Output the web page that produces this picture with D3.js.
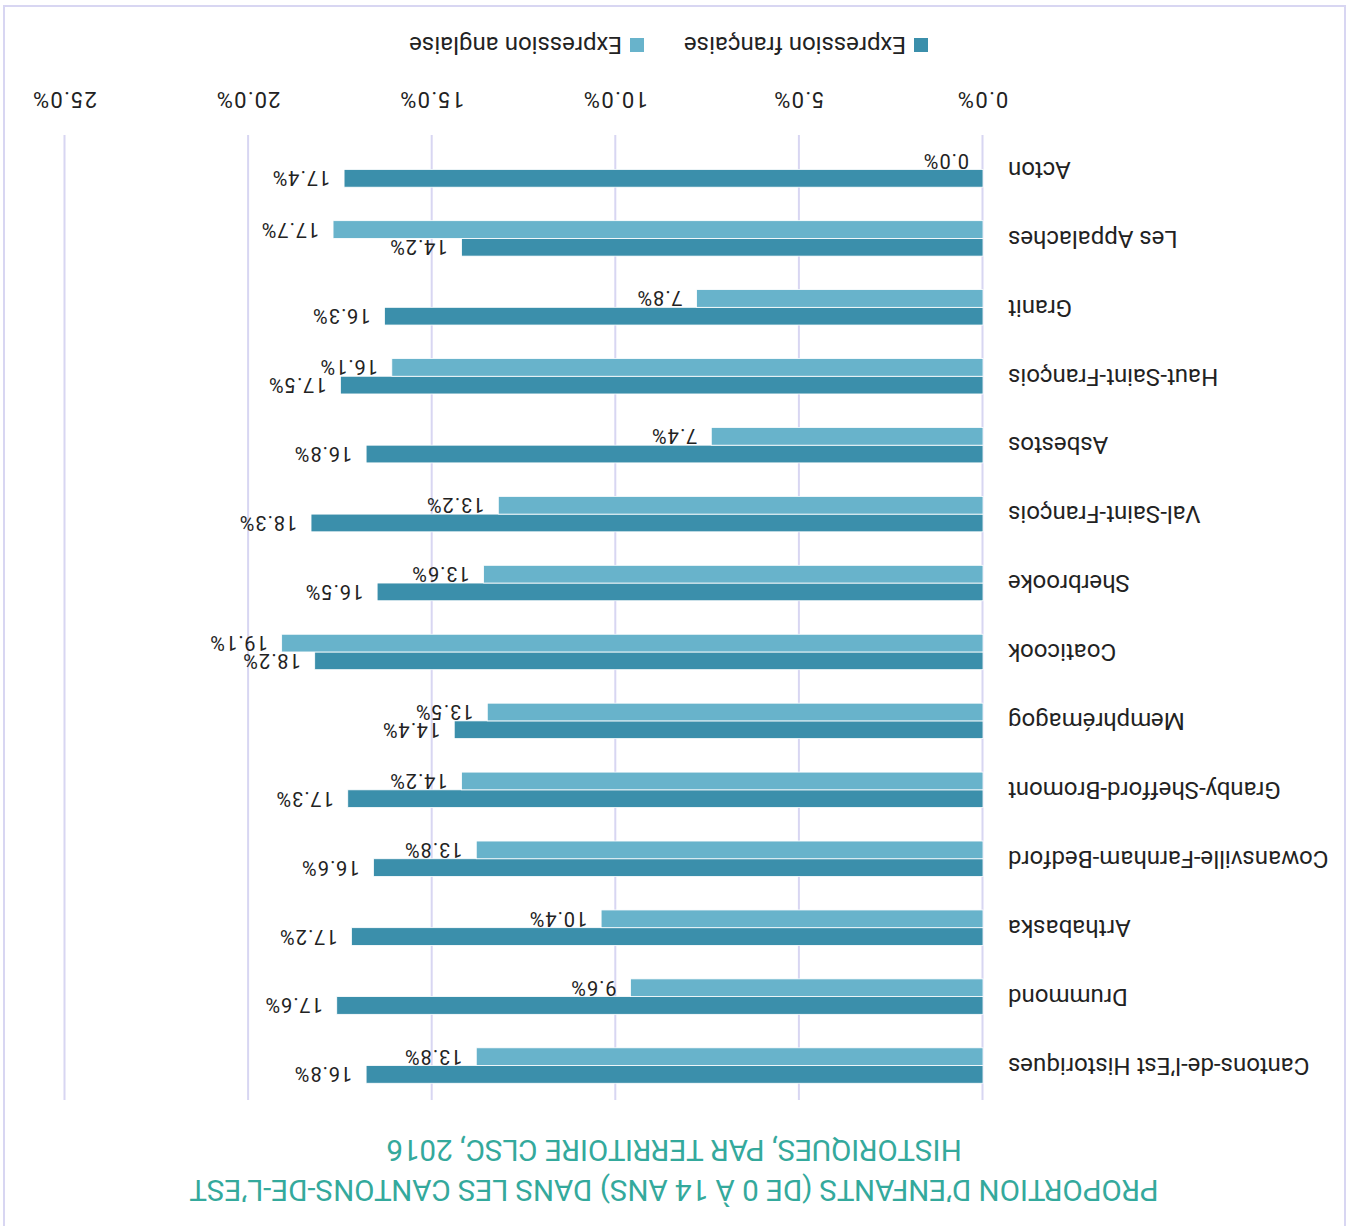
<!DOCTYPE html>
<html>
<head>
<meta charset="utf-8">
<script src="https://cdn.jsdelivr.net/npm/d3@7"></script>
<style>
  body { margin: 0; background: #fff; }
  text { font-family: Roboto, "Noto Sans", sans-serif; }
</style>
</head>
<body>
<div id="chart-div"></div>
<script>
// data, read top to bottom once the chart is turned the right way up
const categories = ["Cantons-de-l’Est Historiques", "Drummond", "Arthabaska", "Cowansville-Farnham-Bedford",
  "Granby-Shefford-Bromont", "Memphrémagog", "Coaticook", "Sherbrooke", "Val-Saint-François",
  "Asbestos", "Haut-Saint-François", "Granit", "Les Appalaches", "Acton"];
const francaise = [16.8, 17.6, 17.2, 16.6, 17.3, 14.4, 18.2, 16.5, 18.3, 16.8, 17.5, 16.3, 14.2, 17.4];
const anglaise = [13.8, 9.6, 10.4, 13.8, 14.2, 13.5, 19.1, 13.6, 13.2, 7.4, 16.1, 7.8, 17.7, 0.0];
const seriesNames = ["Expression française", "Expression anglaise"];
const xTicks = [0, 5, 10, 15, 20, 25];
const titleLines = ["PROPORTION D’ENFANTS (DE 0 À 14 ANS) DANS LES CANTONS-DE-L’EST",
  "HISTORIQUES, PAR TERRITOIRE CLSC, 2016"];

const width = 1349;
const height = 1226;
const colors = ["#3b8fab", "#68b3cb"];
const gridColor = "#d8d6f2";

const plotTop = 126, plotBottom = 1091;

const xScale = d3.scaleLinear().domain([0, 25]).range([366, 1284]);
const yScale = d3.scaleBand().domain(categories).range([plotTop, plotBottom])
  .paddingInner(0.486).paddingOuter(0.243);
const inner = d3.scaleBand().domain(seriesNames).range([0, yScale.bandwidth()]);

const svg = d3.select("#chart-div")
  .append("svg")
  .attr("width", width)
  .attr("height", height);

// the whole picture is drawn upside down
const g = svg.append("g")
  .attr("transform", `rotate(180, ${width / 2}, ${height / 2})`);

// border
g.append("rect")
  .attr("x", 4).attr("y", -2)
  .attr("width", 1341).attr("height", 1222)
  .attr("fill", "none")
  .attr("stroke", gridColor)
  .attr("stroke-width", 2);

// title
g.append("text")
  .attr("text-anchor", "middle")
  .attr("fill", "#34a99c")
  .attr("font-size", 29.5)
  .selectAll("tspan")
  .data(titleLines)
  .enter()
  .append("tspan")
  .attr("x", 675)
  .attr("y", (d, i) => 36 + i * 40)
  .attr("dy", "0.35em")
  .text(d => d);

// x axis + gridlines
const xAxis = d3.axisBottom(xScale)
  .tickValues(xTicks)
  .tickSize(-(plotBottom - plotTop))
  .tickFormat(d => d.toFixed(1) + "%");

const gx = g.append("g")
  .attr("transform", `translate(0, ${plotBottom})`)
  .call(xAxis);
gx.select(".domain").remove();
gx.selectAll(".tick line").attr("stroke", gridColor).attr("stroke-width", 2);
gx.selectAll(".tick text")
  .attr("y", 35)
  .attr("dy", "0.35em")
  .attr("font-size", 22)
  .attr("letter-spacing", 1.2)
  .attr("fill", "#222");

// y axis
const yAxis = d3.axisLeft(yScale).tickSize(0).tickPadding(25);
const gy = g.append("g")
  .attr("transform", `translate(${xScale(0)}, 0)`)
  .call(yAxis);
gy.select(".domain").remove();
gy.selectAll(".tick text")
  .attr("font-size", 24)
  .attr("fill", "#222");

// bars
const rows = categories.map((c, i) => ({ cat: c, vals: [francaise[i], anglaise[i]] }));

const groups = g.selectAll(".row")
  .data(rows)
  .enter()
  .append("g")
  .attr("class", "row")
  .attr("transform", d => `translate(0, ${yScale(d.cat)})`);

groups.selectAll("rect")
  .data(d => d.vals.map((v, j) => ({ v: v, s: seriesNames[j], j: j })))
  .enter()
  .append("rect")
  .attr("x", xScale(0))
  .attr("y", d => inner(d.s))
  .attr("width", d => xScale(d.v) - xScale(0))
  .attr("height", inner.bandwidth())
  .attr("fill", d => colors[d.j])
  .attr("stroke", "#fff")
  .attr("stroke-width", 0.8);

groups.selectAll("text")
  .data(d => d.vals.map((v, j) => ({ v: v, s: seriesNames[j] })))
  .enter()
  .append("text")
  .attr("x", d => xScale(d.v) + 14)
  .attr("y", d => inner(d.s) + inner.bandwidth() / 2)
  .attr("dy", "0.35em")
  .attr("font-size", 20)
  .attr("letter-spacing", 0.9)
  .attr("fill", "#222")
  .text(d => d.v.toFixed(1) + "%");

// legend
const legend = g.append("g")
  .selectAll("g")
  .data(seriesNames)
  .enter()
  .append("g")
  .attr("transform", (d, i) => `translate(${421 + i * 284}, 1181)`);

legend.append("rect")
  .attr("x", 0).attr("y", -7)
  .attr("width", 14).attr("height", 14)
  .attr("fill", (d, i) => colors[i]);

legend.append("text")
  .attr("x", 22).attr("y", 0)
  .attr("dy", "0.35em")
  .attr("font-size", 24)
  .attr("fill", "#222")
  .text(d => d);
</script>
</body>
</html>
